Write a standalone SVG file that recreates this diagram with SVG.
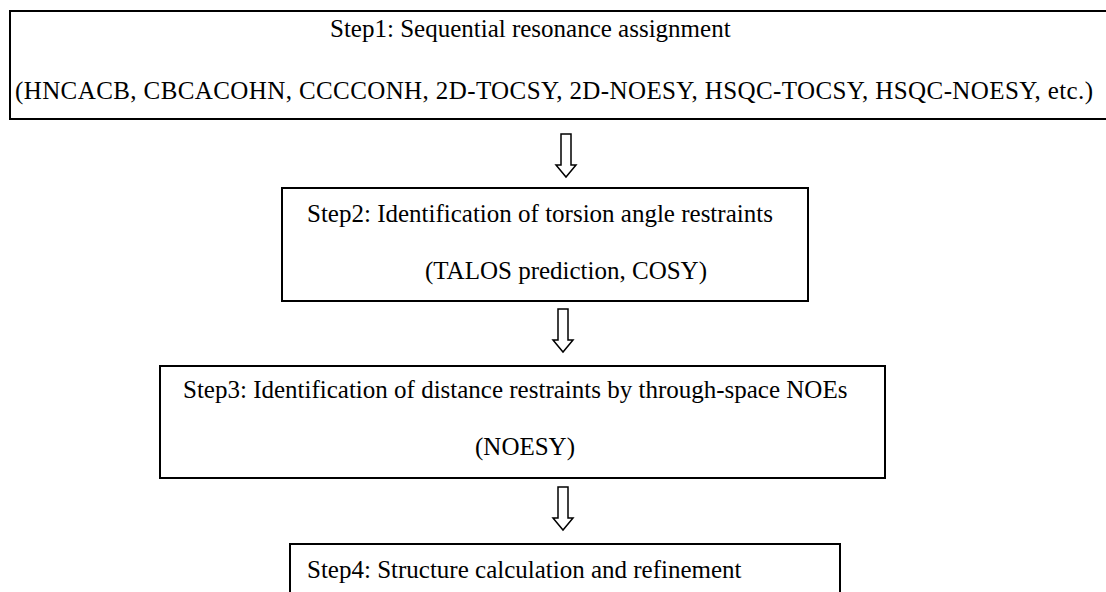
<svg xmlns="http://www.w3.org/2000/svg" width="1106" height="592" viewBox="0 0 1106 592">
<style>
.box{fill:#fff;stroke:#000;stroke-width:2}
.t{font-family:"Liberation Serif","Times New Roman",serif;font-size:25px;fill:#000}
.arr{fill:#fff;stroke:#000;stroke-width:1.5;stroke-linejoin:miter}
</style>
<rect width="1106" height="592" fill="#fff"/>
<g id="step1">
<rect class="box" x="10" y="11" width="1110" height="108"/>
<text class="t" x="330" y="37">Step1: Sequential resonance assignment</text>
<text class="t" x="15" y="99" textLength="1078" lengthAdjust="spacing">(HNCACB, CBCACOHN, CCCCONH, 2D-TOCSY, 2D-NOESY, HSQC-TOCSY, HSQC-NOESY, etc.)</text>
</g>
<g id="step2">
<rect class="box" x="282" y="188" width="526" height="113"/>
<text class="t" x="307" y="222">Step2: Identification of torsion angle restraints</text>
<text class="t" x="425" y="279">(TALOS prediction, COSY)</text>
</g>
<g id="step3">
<rect class="box" x="160" y="366" width="725" height="112"/>
<text class="t" x="183" y="398">Step3: Identification of distance restraints by through-space NOEs</text>
<text class="t" x="475" y="455">(NOESY)</text>
</g>
<g id="step4">
<rect class="box" x="290" y="544" width="550" height="60"/>
<text class="t" x="307" y="578">Step4: Structure calculation and refinement</text>
</g>
<g id="connectors">
<path class="arr" d="M561,134 H571 V165 H576 L566,177 L556,165 H561 Z"/>
<path class="arr" d="M558,309 H568 V340 H573 L563,352 L553,340 H558 Z"/>
<path class="arr" d="M558,487 H568 V518 H573 L563,530 L553,518 H558 Z"/>
</g>
</svg>
